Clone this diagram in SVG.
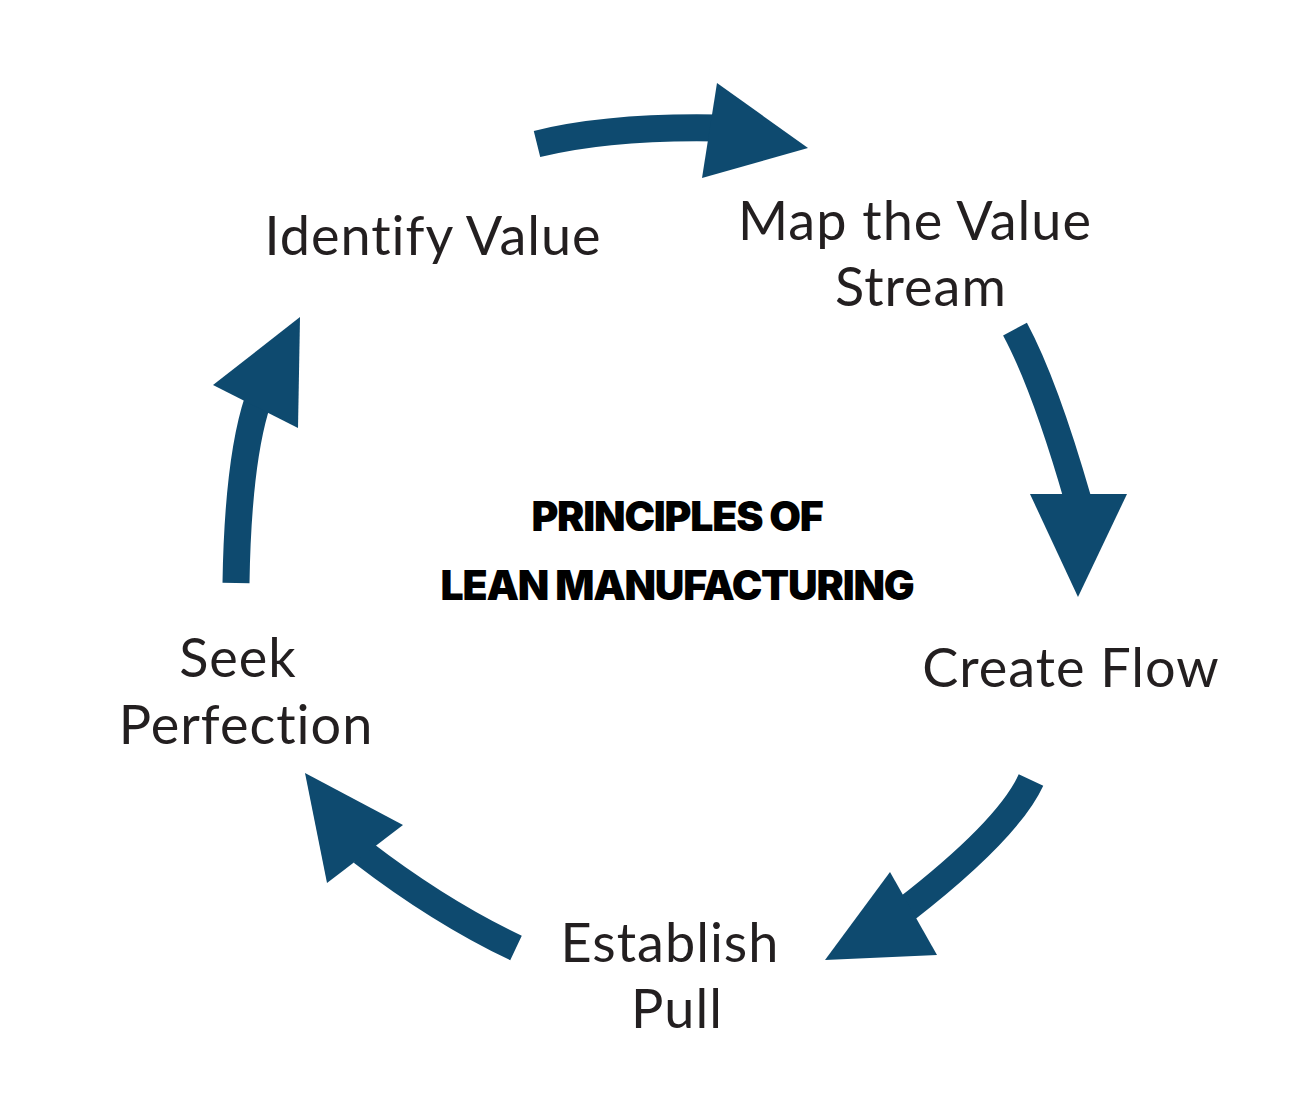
<svg xmlns="http://www.w3.org/2000/svg" width="1300" height="1100" viewBox="0 0 1300 1100">
  <style>
    .lbl { font-family: Lato, "Open Sans", sans-serif; font-size: 54px; fill: #231f20; text-anchor: middle; letter-spacing: 1px; }
    .title { font-family: Inter, "Liberation Sans", sans-serif; font-weight: 900; font-size: 41px; fill: #000000; text-anchor: middle; letter-spacing: -1.2px; }
    .shaft { fill: none; stroke: #0e4a6f; stroke-width: 27; stroke-linecap: butt; }
    .head { fill: #0e4a6f; }
  </style>
  <rect width="1300" height="1100" fill="#ffffff"/>
  <g id="connectors">
    <g id="arrow-identify-to-map">
      <path class="shaft" d="M537,144 Q610,126 718,128"/>
      <polygon class="head" points="717,83 808,148 702,178"/>
    </g>
    <g id="arrow-map-to-flow">
      <path class="shaft" d="M1015,329 Q1045,385 1078,500"/>
      <polygon class="head" points="1030,494 1127,494 1078,597"/>
    </g>
    <g id="arrow-flow-to-pull">
      <path class="shaft" d="M1031,780 Q1008,830 905,910"/>
      <polygon class="head" points="890,872 937,955 825,960"/>
    </g>
    <g id="arrow-pull-to-perfection">
      <path class="shaft" d="M516,948 Q440,912 362,852"/>
      <polygon class="head" points="305,773 403,825 327,883"/>
    </g>
    <g id="arrow-perfection-to-identify">
      <path class="shaft" d="M236,583 Q238,460 258,400"/>
      <polygon class="head" points="300,317 213,385 298,428"/>
    </g>
  </g>
  <g id="node-identify-value">
    <text class="lbl" x="433" y="255">Identify Value</text>
  </g>
  <g id="node-map-value-stream">
    <text class="lbl"><tspan x="915" y="240">Map the Value</tspan><tspan x="921" y="306">Stream</tspan></text>
  </g>
  <g id="node-create-flow">
    <text class="lbl" x="1071" y="687">Create Flow</text>
  </g>
  <g id="node-establish-pull">
    <text class="lbl"><tspan x="670" y="962">Establish</tspan><tspan x="677" y="1028">Pull</tspan></text>
  </g>
  <g id="node-seek-perfection">
    <text class="lbl"><tspan x="238" y="677">Seek</tspan><tspan x="246" y="744">Perfection</tspan></text>
  </g>
  <g id="center-title">
    <text class="title"><tspan x="677" y="531">PRINCIPLES OF</tspan><tspan x="677" y="600">LEAN MANUFACTURING</tspan></text>
  </g>
</svg>
